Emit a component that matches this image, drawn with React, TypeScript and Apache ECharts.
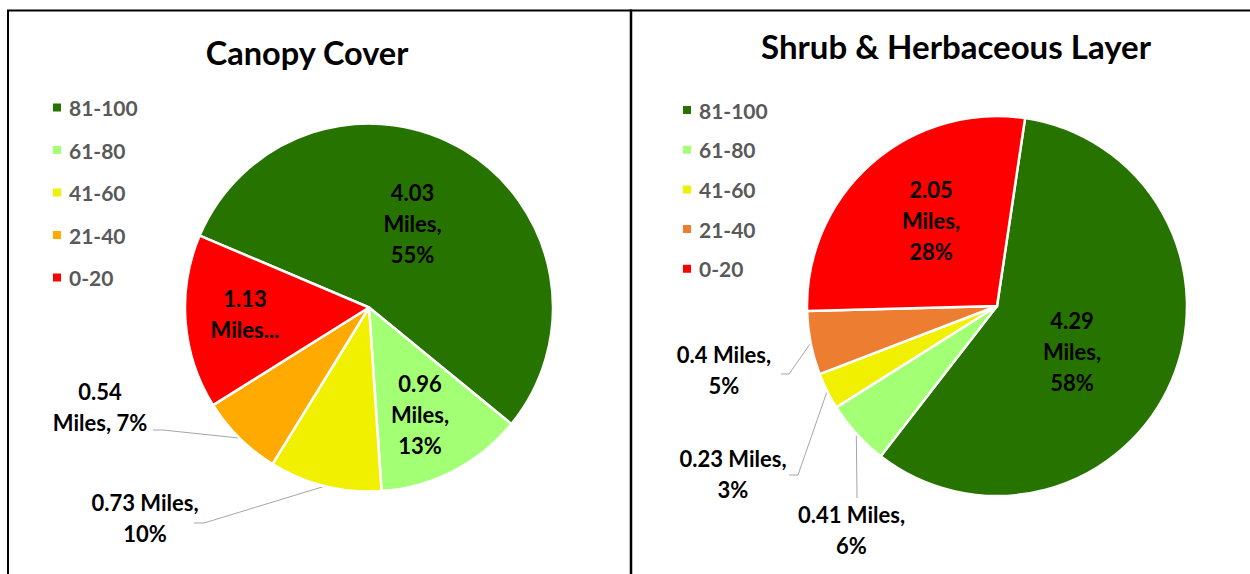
import React, { useEffect, useRef } from 'react';
import * as echarts from 'echarts';

// ---- data ----
const categories = ['81-100', '61-80', '41-60', '21-40', '0-20'];
const canopyMiles = [4.03, 0.96, 0.73, 0.54, 1.13];
const shrubMiles = [4.29, 0.41, 0.23, 0.4, 2.05];
const canopyColors = ['#267300', '#A3FF73', '#F0F000', '#FFAA00', '#FF0000'];
const shrubColors = ['#267300', '#A3FF73', '#F0F000', '#ED7D31', '#FF0000'];
const chartTitles = ['Canopy Cover', 'Shrub & Herbaceous Layer'];

// label text templates per slice (Excel wrapping)
const canopyLabelText = ['{c}\nMiles,\n{d}%', '{c}\nMiles,\n{d}%', '{c} Miles,\n{d}%', '{c}\nMiles, {d}%', '{c}\nMiles...'];
const shrubLabelText = ['{c}\nMiles,\n{d}%', '{c} Miles,\n{d}%', '{c} Miles,\n{d}%', '{c} Miles,\n{d}%', '{c}\nMiles,\n{d}%'];

// ---- layout / style (not data) ----
const FONT = 'Lato, "Open Sans", sans-serif';
type Spec = { inside: boolean; pos: [number, number]; line?: [[number, number], [number, number]] };
const canopyGeom = { cx: 369, cy: 307.5, r: 184, start: 157 };
const shrubGeom = { cx: 997, cy: 306, r: 190, start: 81.5 };
const canopySpecs: Spec[] = [
  { inside: true, pos: [43.5, -84.5] },
  { inside: true, pos: [51, 106.5] },
  { inside: false, pos: [-224, 210], line: [[49, 5.5], [59, 5.5]] },
  { inside: false, pos: [-269, 99.5], line: [[53, 23], [63, 23]] },
  { inside: true, pos: [-124, 6.5] },
];
const shrubSpecs: Spec[] = [
  { inside: true, pos: [75, 45.5] },
  { inside: false, pos: [-145.5, 224], line: [[5.5, -32], [5.5, -32]] },
  { inside: false, pos: [-264, 168], line: [[56, 1], [65, 1]] },
  { inside: false, pos: [-273, 64], line: [[57, 4], [65, 4]] },
  { inside: true, pos: [-66, -86] },
];

function buildSeries(name: string, values: number[], colors: string[], texts: string[], specs: Spec[], g: any) {
  return {
    type: 'pie',
    name,
    center: [g.cx, g.cy],
    radius: [0, g.r],
    startAngle: g.start,
    clockwise: true,
    percentPrecision: 0,
    avoidLabelOverlap: false,
    silent: true,
    itemStyle: { borderColor: '#ffffff', borderWidth: 2.5 },
    label: {
      show: true,
      fontFamily: FONT,
      fontWeight: 'bold',
      fontSize: 22,
      lineHeight: 31,
      color: '#000000',
    },
    labelLine: { show: true, length: 10, length2: 10, lineStyle: { color: '#A6A6A6', width: 1 } },
    data: values.map((v, i) => ({
      name: categories[i],
      value: v,
      itemStyle: { color: colors[i] },
      label: { position: specs[i].inside ? 'inside' : 'outside', formatter: texts[i] },
      labelLine: { show: !specs[i].inside },
    })),
    labelLayout: (params: any) => {
      const s = specs[params.dataIndex];
      const x = g.cx + s.pos[0];
      const y = g.cy + s.pos[1];
      const out: any = { x, y, align: 'center', verticalAlign: 'middle' };
      if (s.line && params.labelLinePoints && params.labelLinePoints.length) {
        const edge = params.labelLinePoints[0];
        out.labelLinePoints = [
          [edge[0], edge[1]],
          [x + s.line[1][0], y + s.line[1][1]],
          [x + s.line[0][0], y + s.line[0][1]],
        ];
      }
      return out;
    },
  };
}

function buildLegend(colors: string[], left: number, top: number, gap: number) {
  return {
    orient: 'vertical',
    left,
    top,
    padding: 0,
    itemWidth: 10,
    itemHeight: 10,
    itemGap: gap,
    icon: 'rect',
    selectedMode: false,
    textStyle: { fontFamily: FONT, fontWeight: 'bold', fontSize: 21, color: '#595959', lineHeight: 20, padding: [0, 0, 0, 2] },
    data: categories.map((c, i) => ({ name: c, itemStyle: { color: colors[i] } })),
  };
}

export default function App() {
  const ref = useRef<HTMLDivElement>(null);
  useEffect(() => {
    if (!ref.current) return;
    const chart = echarts.init(ref.current, undefined, { renderer: 'svg' });
    chart.setOption({
      animation: false,
      backgroundColor: '#ffffff',
      legend: [buildLegend(canopyColors, 51, 97, 21.5), buildLegend(shrubColors, 681, 99.5, 18.7)],
      graphic: [
        { type: 'line', shape: { x1: 8, y1: 10, x2: 8, y2: 580 }, style: { stroke: '#000', lineWidth: 2 } },
        { type: 'line', shape: { x1: 7, y1: 10.5, x2: 631, y2: 10.5 }, style: { stroke: '#000', lineWidth: 2 } },
        { type: 'line', shape: { x1: 631, y1: 9.5, x2: 631, y2: 580 }, style: { stroke: '#000', lineWidth: 2.5 } },
        { type: 'line', shape: { x1: 630, y1: 10.5, x2: 1260, y2: 10.5 }, style: { stroke: '#000', lineWidth: 2 } },
        {
          type: 'text', x: 307, y: 52,
          style: { text: chartTitles[0], fontFamily: FONT, fontWeight: 'bold', fontSize: 32.5, fill: '#000', align: 'center', verticalAlign: 'middle' },
        },
        {
          type: 'text', x: 956, y: 46,
          style: { text: chartTitles[1], fontFamily: FONT, fontWeight: 'bold', fontSize: 33, fill: '#000', align: 'center', verticalAlign: 'middle' },
        },
      ],
      series: [
        buildSeries('Canopy Cover', canopyMiles, canopyColors, canopyLabelText, canopySpecs, canopyGeom),
        buildSeries('Shrub & Herbaceous Layer', shrubMiles, shrubColors, shrubLabelText, shrubSpecs, shrubGeom),
      ],
    });
    return () => chart.dispose();
  }, []);
  return <div ref={ref} style={{ position: 'fixed', left: 0, top: 0, width: 1250, height: 574, background: '#fff' }} />;
}
